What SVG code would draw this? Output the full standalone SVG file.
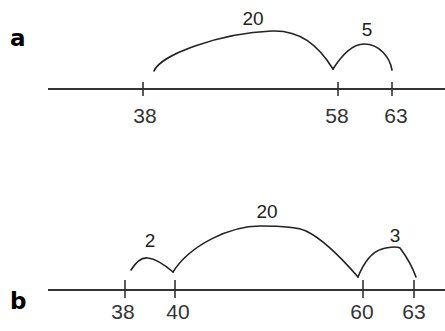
<svg xmlns="http://www.w3.org/2000/svg" width="445" height="331" viewBox="0 0 445 331">
<style>
.axis{stroke:#333;stroke-width:2;fill:none}
.tick{stroke:#333;stroke-width:1.6;fill:none}
.arc{stroke:#222;stroke-width:1.6;fill:none;stroke-linecap:round;stroke-linejoin:round}
.num{font-family:"Liberation Sans",Arial,sans-serif;font-size:21px;fill:#333;text-anchor:middle}
.jump{font-family:"Liberation Sans",Arial,sans-serif;font-size:19px;fill:#222;text-anchor:middle}
.panel{font-family:"DejaVu Sans","Liberation Sans",sans-serif;font-weight:bold;font-size:23px;fill:#000}
</style>
<rect width="445" height="331" fill="#fff"/>
<g id="panel-a">
<text class="panel" x="10" y="46">a</text>
<line class="axis" x1="48" y1="89" x2="445" y2="89"/>
<g id="ticks-a">
<line class="tick" x1="143" y1="82" x2="143" y2="96"/>
<line class="tick" x1="338" y1="82" x2="338" y2="96"/>
<line class="tick" x1="392" y1="82" x2="392" y2="96"/>
</g>
<text class="num" x="145" y="123">38</text>
<text class="num" x="337" y="123">58</text>
<text class="num" x="396" y="123">63</text>
<g id="jumps-a">
<path class="arc" d="M154,71 C160,55 220,33 272,31 C300,30 318,45 333,69"/>
<path class="arc" d="M333,69 C342,55 352,44 364,44 C380,44 390,58 392,70"/>
</g>
<text class="jump" x="253" y="25">20</text>
<text class="jump" x="367" y="36">5</text>
</g>
<g id="panel-b">
<text class="panel" x="10" y="309">b</text>
<line class="axis" x1="48" y1="290" x2="445" y2="290"/>
<g id="ticks-b">
<line class="tick" x1="125" y1="280" x2="125" y2="298"/>
<line class="tick" x1="175" y1="280" x2="175" y2="298"/>
<line class="tick" x1="363" y1="280" x2="363" y2="298"/>
<line class="tick" x1="414" y1="280" x2="414" y2="298"/>
</g>
<text class="num" x="123" y="319">38</text>
<text class="num" x="178" y="319">40</text>
<text class="num" x="362" y="319">60</text>
<text class="num" x="414" y="319">63</text>
<g id="jumps-b">
<path class="arc" d="M131,270 C136,262 142,257 148,258 C156,259 166,266 173,272"/>
<path class="arc" d="M173,272 C190,245 230,226 260,226 C285,226 300,228 306,231 C325,240 345,262 358,277"/>
<path class="arc" d="M358,277 C364,262 372,252 382,249 C390,247 396,246 400,248 C406,256 412,266 416,277"/>
</g>
<text class="jump" x="150" y="247">2</text>
<text class="jump" x="267" y="218">20</text>
<text class="jump" x="395" y="242">3</text>
</g>
</svg>
